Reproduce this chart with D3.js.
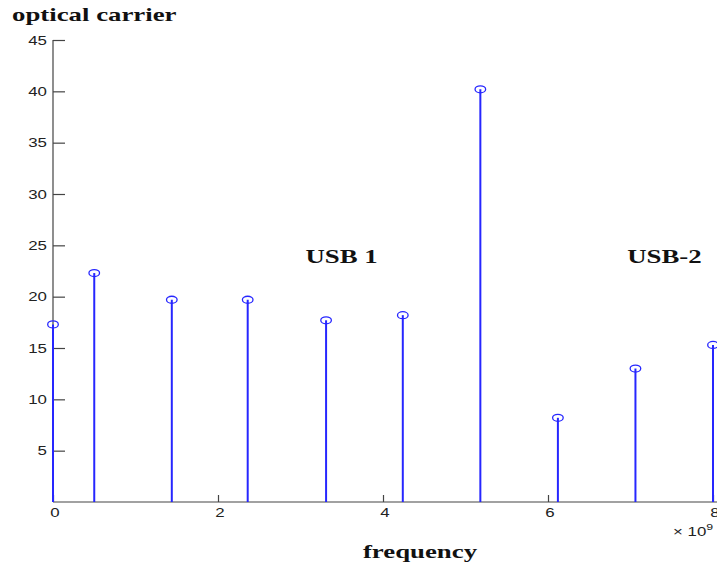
<!DOCTYPE html>
<html><head><meta charset="utf-8">
<script src="https://cdn.jsdelivr.net/npm/d3@7"></script>
<style>body{margin:0;background:#fff}svg{display:block}</style>
</head><body>
<svg id="c" width="717" height="565"></svg>
<script>
const freqs = [0, 0.5, 1.44, 2.36, 3.31, 4.24, 5.18, 6.12, 7.06, 8.0]; // x 10^9 Hz
const amps = [17.3, 22.3, 19.7, 19.7, 17.7, 18.2, 40.2, 8.2, 13.0, 15.3];
const xTicks = [0, 2, 4, 6, 8];
const yTicks = [5, 10, 15, 20, 25, 30, 35, 40, 45];
const annotations = [{label: "USB 1", f: 3.06, v: 23.3}, {label: "USB-2", f: 6.96, v: 23.3}];

const SX = 1.45; // horizontal stretch of the original figure
const TSX = 1.37;
const svg = d3.select("#c");
const x = d3.scaleLinear().domain([0, 8]).range([53, 713]);
const y = d3.scaleLinear().domain([0, 45]).range([502, 40]);

function stext(px, py, anchor, sx) {
  return svg.append("g").attr("transform", `translate(${px},${py}) scale(${sx || SX},1)`)
    .append("text").attr("text-anchor", anchor || "start");
}
const sans = "Liberation Sans, Arial, sans-serif";
const serif = "Liberation Serif, Times New Roman, serif";

// axes
const axisColor = "#444";
svg.append("line").attr("x1", x(0)).attr("x2", 717).attr("y1", y(0)).attr("y2", y(0)).attr("stroke", axisColor).attr("stroke-width", 1.2);
svg.append("line").attr("x1", x(0)).attr("x2", x(0)).attr("y1", y(0)).attr("y2", y(45)).attr("stroke", axisColor).attr("stroke-width", 1.2);

const yAxis = d3.axisRight(y).tickValues(yTicks).tickSize(12).tickFormat("");
const ya = svg.append("g").attr("transform", `translate(${x(0)},0)`).call(yAxis);
ya.select(".domain").remove();
ya.selectAll("line").attr("stroke", axisColor).attr("stroke-width", 1.2);
yTicks.forEach(d => {
  stext(47, y(d) + 4.5, "end", TSX).attr("font-family", sans).attr("font-size", 12.3).attr("fill", "#222").text(d);
});

const xAxis = d3.axisTop(x).tickValues(xTicks).tickSize(7).tickFormat("");
const xa = svg.append("g").attr("transform", `translate(0,${y(0)})`).call(xAxis);
xa.select(".domain").remove();
xa.selectAll("line").attr("stroke", axisColor).attr("stroke-width", 1.2);
xTicks.forEach(d => {
  stext(x(d) + 2, 516.5, "middle", TSX).attr("font-family", sans).attr("font-size", 12.3).attr("fill", "#222").text(d);
});

// x 10^9
const ex = stext(673, 535.5, "start", TSX).attr("font-family", sans).attr("font-size", 12.3).attr("fill", "#222");
ex.append("tspan").text("× 10");
ex.append("tspan").attr("dy", -6).attr("font-size", 9).text("9");

// stems
const blue = "#2626ff";
const data = freqs.map((f, i) => ({f, v: amps[i]}));
svg.selectAll(".stem").data(data).enter().append("line")
  .attr("x1", d => x(d.f)).attr("x2", d => x(d.f))
  .attr("y1", y(0)).attr("y2", d => y(d.v))
  .attr("stroke", blue).attr("stroke-width", 2);
svg.selectAll(".mk").data(data).enter().append("ellipse")
  .attr("cx", d => x(d.f)).attr("cy", d => y(d.v))
  .attr("rx", 5.3).attr("ry", 3.5)
  .attr("fill", "none").attr("stroke", blue).attr("stroke-width", 1.3);

// titles
stext(12, 21).attr("font-family", serif).attr("font-weight", "bold")
  .attr("font-size", 18.5).attr("fill", "#111").text("optical carrier");
stext(420, 558, "middle").attr("font-family", serif).attr("font-weight", "bold")
  .attr("font-size", 18.5).attr("fill", "#111").text("frequency");
annotations.forEach(a => {
  stext(x(a.f), y(a.v)).attr("font-family", serif).attr("font-weight", "bold")
    .attr("font-size", 18.5).attr("fill", "#111").text(a.label);
});
</script>
</body></html>
